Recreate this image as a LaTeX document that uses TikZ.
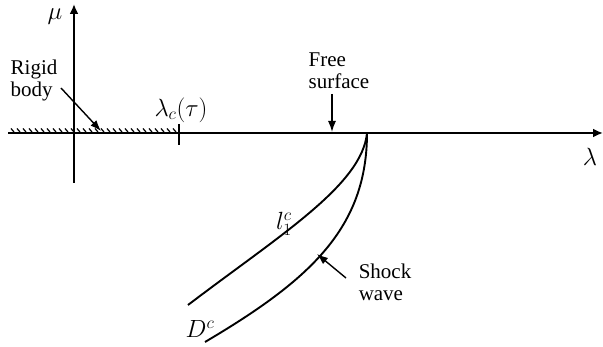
\documentclass[tikz,border=0pt]{standalone}
\usepackage{fontspec}
\setmainfont{Liberation Serif}
\usetikzlibrary{arrows.meta}
\begin{document}
\begin{tikzpicture}[x=1pt,y=-1pt,
  axis/.style={line width=2.6pt},
  curve/.style={line width=1.9pt},
  ptr/.style={line width=1.4pt,-{Latex[length=11pt,width=8pt]}},
  lbl/.style={inner sep=0pt,font=\fontsize{21}{22}\selectfont,align=left},
  mlbl/.style={inner sep=0pt,font=\fontsize{23}{25}\selectfont}]
\useasboundingbox (0,0) rectangle (603,347);
% axes
\coordinate (hl) at (8,133);
\coordinate (hr) at (603,133);
\coordinate (vb) at (74,183);
\coordinate (vt) at (74,4);
\draw[axis,-{Latex[length=10pt,width=9pt]}] (hl) -- (hr);
\draw[axis,-{Latex[length=10pt,width=9pt]}] (vb) -- (vt);
% hatching of rigid body
\foreach \x in {14,20,...,176} \draw[line width=1.2pt] (\x-3,128.5) -- (\x,132);
% tick at lambda_c
\coordinate (tt) at (179,124);
\coordinate (tb) at (179,145);
\draw[line width=2.8pt] (tt) -- (tb);
% labels
\node[mlbl] (mu) at (55,17) {$\mu$};
\node[mlbl] (lam) at (590,157) {$\lambda$};
\node[mlbl] (lamc) at (181,110) {$\lambda_c(\tau)$};
\node[lbl] (rigid) at (34,80) {Rigid\\body};
\coordinate (rtip) at (101,131);
\draw[ptr] (61,88) -- (rtip);
\node[lbl] (free) at (339,71) {Free\\surface};
\coordinate (ftip) at (332,132);
\draw[ptr] (332,94) -- (ftip);
% curves
\coordinate (top) at (367,133);
\coordinate (lend) at (188,305);
\coordinate (rend) at (205,342);
\draw[curve] (top) .. controls (362,185) and (280,235) .. (lend);
\draw[curve] (top) .. controls (367,228) and (310,280) .. (rend);
\node[mlbl] (l1c) at (284,224) {$l_1^c$};
\node[mlbl] (dc) at (200,329) {$D^c$};
\node[lbl] (shock) at (385,282) {Shock\\wave};
\coordinate (stip) at (317,254);
\draw[ptr] (346,278) -- (stip);
\end{tikzpicture}
\end{document}
